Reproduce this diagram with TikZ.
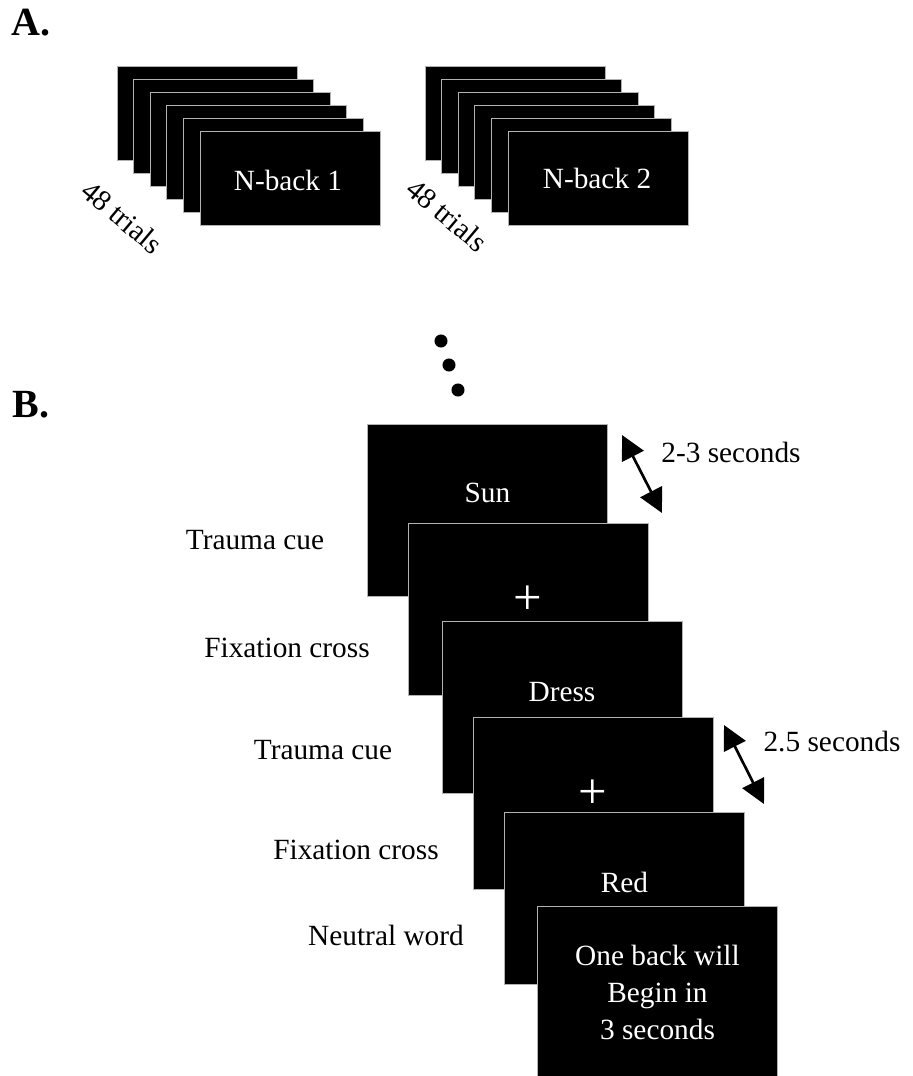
\documentclass[tikz,border=0pt]{standalone}
\usepackage{fontspec}
\setmainfont{Liberation Serif}
\usetikzlibrary{%
  arrows.meta,%
  positioning,%
  calc%
}

\begin{document}
\begin{tikzpicture}[
  x=0.75pt, y=-0.75pt,
  font=\fontsize{22}{27.75}\selectfont,
  >={Triangle[length=18pt,width=18pt]},
  line width=2pt,
  block/.style={draw=gray!60, line width=0.75pt, fill=black,
    minimum width=135pt, minimum height=70.5pt, inner sep=0pt},
  screen/.style={draw=gray!60, line width=0.75pt, fill=black,
    minimum width=180pt, minimum height=129pt, inner sep=0pt},
  cardtext/.style={text=white, inner sep=0pt, align=center},
  lbl/.style={inner sep=0pt},
  panel/.style={inner sep=0pt, font=\fontsize{30}{36}\selectfont\bfseries},
]
\useasboundingbox (0,0) rectangle (913,1076);

% A. two n-back blocks
\node[panel] (pa) at (31,23) {A.};
\foreach \i in {0,...,5} {
  \node[block] (ba\i) at (207+16.6*\i,113+13*\i) {};
}
\node[cardtext] (nb1) at (288,180) {N-back 1};
\node[lbl,rotate=-40] (tr1) at (122,217) {48 trials};

\foreach \i in {0,...,5} {
  \node[block] (bb\i) at (515+16.6*\i,113+13*\i) {};
}
\node[cardtext] (nb2) at (597,178) {N-back 2};
\node[lbl,rotate=-40] (tr2) at (447,215) {48 trials};

% dots
\fill (441,341) circle (4.9pt);
\fill (449,365) circle (4.9pt);
\fill (458,390) circle (4.9pt);

% B. trial sequence
\node[panel] (pb) at (31,405) {B.};

\node[screen] (s1) at (487.5,510) {};
\node[cardtext] (w1) at ($(s1)+(0,-17)$) {Sun};
\node[screen] (s2) at (528,609) {};
\node[cardtext,font=\fontsize{38}{38}\selectfont] (w2) at ($(s2)+(0,-9)$) {+};
\node[screen] (s3) at (562,707.5) {};
\node[cardtext] (w3) at ($(s3)+(0,-15.5)$) {Dress};
\node[screen] (s4) at (593,803) {};
\node[cardtext,font=\fontsize{38}{38}\selectfont] (w4) at ($(s4)+(0,-9)$) {+};
\node[screen] (s5) at (624.5,898) {};
\node[cardtext] (w5) at ($(s5)+(0,-16)$) {Red};
\node[screen] (s6) at (657.5,992) {};
\node[cardtext] (w6) at (s6) {One back will\\Begin in\\3 seconds};

\node[lbl] (l1) at (255,540) {Trauma cue};
\node[lbl] (l2) at (287,648) {Fixation cross};
\node[lbl] (l3) at (323,750) {Trauma cue};
\node[lbl] (l4) at (356,850) {Fixation cross};
\node[lbl] (l5) at (386,935) {Neutral word};

% durations
\coordinate (d1a) at (622,435);
\coordinate (d1b) at (662,513);
\draw[<->] (d1a) -- (d1b);
\node[lbl] (t1) at (731,452) {2-3 seconds};
\coordinate (d2a) at (724,725);
\coordinate (d2b) at (764,804);
\draw[<->] (d2a) -- (d2b);
\node[lbl] (t2) at (832,742) {2.5 seconds};
\end{tikzpicture}
\end{document}
